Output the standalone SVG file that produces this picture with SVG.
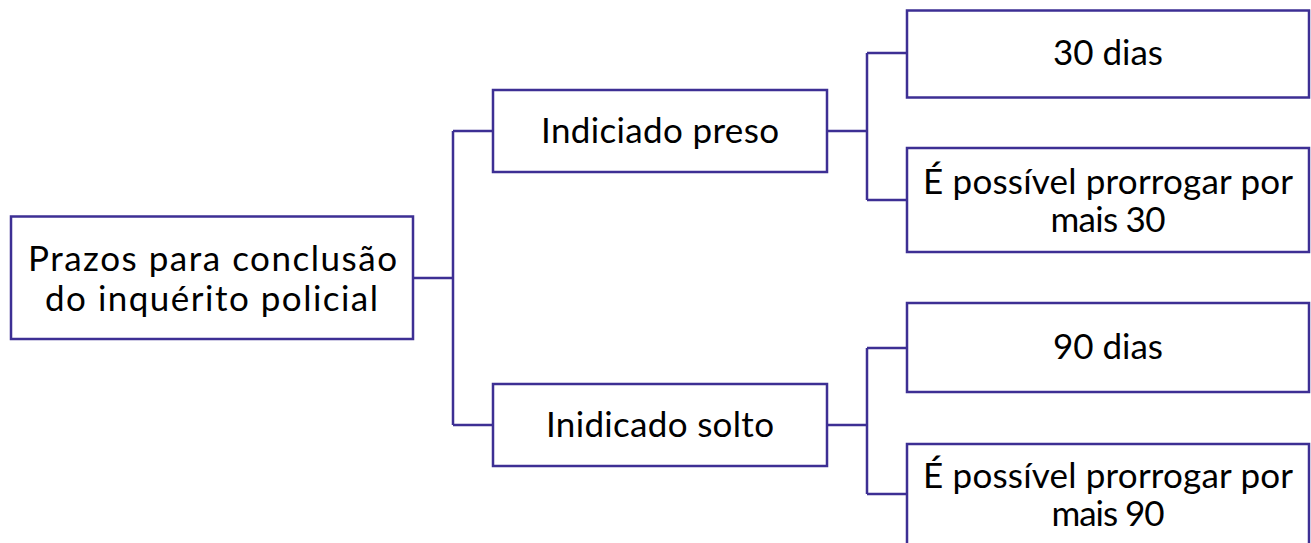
<svg xmlns="http://www.w3.org/2000/svg" width="1311" height="543" viewBox="0 0 1311 543">
<style>
.box{fill:#fff;stroke:#3d2f94;stroke-width:2.5}
.lbl{font-family:Lato,"Open Sans",sans-serif;font-size:35px;font-weight:400;fill:#000;text-anchor:middle}
.con{fill:none;stroke:#3d2f94;stroke-width:2.5}
</style>
<rect width="1311" height="543" fill="#fff"/>
<g id="connectors">
<path class="con" d="M413 278H453M453 131V425M453 131H493M453 425H493"/>
<path class="con" d="M827 131H867M867 53V200M867 53H907M867 200H907"/>
<path class="con" d="M827 425H867M867 348V494M867 348H907M867 494H907"/>
</g>
<g id="root"><rect class="box" x="11" y="216.5" width="402" height="122.5"/>
<text class="lbl" x="212.5" y="271" textLength="369" lengthAdjust="spacing">Prazos para conclusão</text>
<text class="lbl" x="211.5" y="311" textLength="333" lengthAdjust="spacing">do inquérito policial</text></g>
<g id="preso"><rect class="box" x="493" y="90" width="334" height="82"/>
<text class="lbl" x="660" y="143" textLength="238" lengthAdjust="spacing">Indiciado preso</text></g>
<g id="solto"><rect class="box" x="493" y="384" width="334" height="82"/>
<text class="lbl" x="660" y="437" textLength="228" lengthAdjust="spacing">Inidicado solto</text></g>
<g id="d30"><rect class="box" x="907" y="10.5" width="402" height="87"/>
<text class="lbl" x="1108" y="65" textLength="110" lengthAdjust="spacing">30 dias</text></g>
<g id="p30"><rect class="box" x="907" y="148" width="402" height="104"/>
<text class="lbl" x="1108" y="194" textLength="370" lengthAdjust="spacing">É possível prorrogar por</text>
<text class="lbl" x="1108" y="232" textLength="115" lengthAdjust="spacing">mais 30</text></g>
<g id="d90"><rect class="box" x="907" y="303" width="402" height="89"/>
<text class="lbl" x="1108" y="359" textLength="110" lengthAdjust="spacing">90 dias</text></g>
<g id="p90"><rect class="box" x="907" y="444" width="402" height="110"/>
<text class="lbl" x="1108" y="488" textLength="370" lengthAdjust="spacing">É possível prorrogar por</text>
<text class="lbl" x="1108" y="526" textLength="113" lengthAdjust="spacing">mais 90</text></g>
</svg>
